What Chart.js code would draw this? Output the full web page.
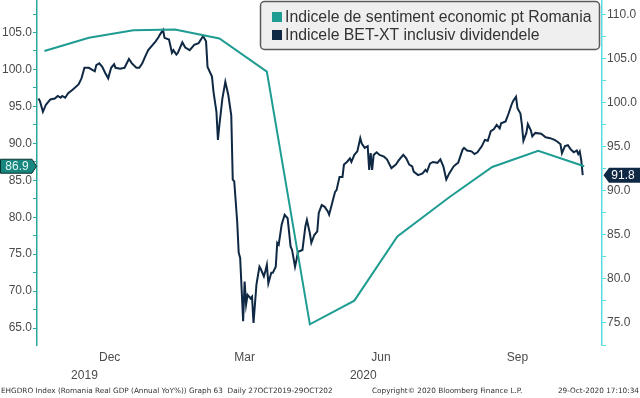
<!DOCTYPE html>
<html>
<head>
<meta charset="utf-8">
<script src="https://cdn.jsdelivr.net/npm/chart.js@4.4.0/dist/chart.umd.min.js"></script>
<style>
html,body{margin:0;padding:0;background:#fff;}
canvas{display:block;}
</style>
</head>
<body>
<canvas id="c" width="640" height="398"></canvas>
<script>
// ---- Data (x = days since 27 Oct 2019) ----
const seriesNames = ['Indicele de sentiment economic pt Romania', 'Indicele BET-XT inclusiv dividendele'];

const sentDay = [5, 35, 65, 93, 123, 155, 184, 214, 243, 278, 307, 338, 369];
const sentValue = [102.5, 104.3, 105.3, 105.4, 104.2, 99.7, 65.5, 68.7, 77.4, 82.7, 86.8, 89.0, 86.9];

const betDay = [1,2,4,6,9,12,14,16,17,19,21,24,28,30,32,35,37,39,40,42,44,46,48,50,52,53,56,59,62,64,67,69,71,73,75,77,80,82,83,85,86,89,91,92,94,95,98,100,
103,106,109,112,114,115,118,119,121,122,123,125,127,129,131,132,133,135,136,137,139,140,141,142,144,145,146,148,150,151,153,154,155,156,158,159,161,162,163,165,167,169,171,172,174,175,176,
179,181,182,184,185,187,189,190,192,194,196,197,199,201,202,204,206,207,209,211,212,214,216,218,219,221,223,224,225,226,227,229,231,234,236,239,242,244,247,249,251,253,254,257,260,262,263,265,267,270,272,
274,276,278,281,283,284,287,288,290,293,295,297,300,302,304,306,308,310,312,313,316,318,320,321,323,324,326,327,328,330,331,333,334,336,340,343,346,349,351,353,354,356,358,360,362,364,365,366,367,368];
const betValue = [100.5,100.2,99.0,99.8,100.4,100.5,100.8,100.6,100.8,100.6,101.1,101.5,102.1,102.8,104.0,104.0,103.8,103.6,104.3,104.5,104.1,103.4,102.8,104.0,104.4,104.0,103.9,104.0,105.0,104.5,104.0,104.0,104.5,105.3,106.0,106.4,107.0,107.5,107.8,108.3,107.4,107.2,105.7,106.0,105.5,105.7,106.9,106.3,
106.0,106.6,106.8,107.6,107.0,104.1,103.0,101.3,99.0,95.8,97.5,100.5,102.4,100.9,98.6,91.3,91.1,86.5,83.0,82.4,75.2,79.7,77.1,78.2,77.8,78.0,75.0,79.4,81.4,81.1,80.3,80.9,81.6,79.5,80.7,80.7,81.4,84.1,83.9,86.2,87.3,86.9,83.7,83.3,81.4,82.2,83.1,
83.3,86.0,86.7,85.2,84.1,85.0,85.4,87.5,88.4,88.2,87.7,87.3,88.6,89.9,90.1,91.6,91.6,93.0,93.3,93.7,93.3,94.1,94.5,96.0,95.4,94.9,95.1,92.4,94.3,92.4,94.1,94.4,94.1,93.9,93.6,92.6,93.0,93.5,94.1,93.7,93.0,92.8,92.2,91.8,92.0,92.4,92.2,93.1,93.3,93.2,93.6,
92.8,91.3,92.0,92.8,93.1,93.2,94.7,94.9,94.6,94.5,94.2,94.4,95.1,95.8,95.7,96.8,97.0,97.5,97.1,97.7,97.9,98.8,99.8,100.2,100.7,99.4,98.8,97.5,95.7,96.6,97.6,96.9,96.2,96.6,96.5,96.1,96.0,95.8,95.6,95.3,94.3,95.1,95.2,94.7,94.4,94.6,94.2,94.5,93.5,91.8];

// ---- Ticks ----
const xTickDays = [32, 49, 140, 220, 232, 324];
const xTickLabels = [['', '2019'], 'Dec', 'Mar', ['', '2020'], 'Jun', 'Sep'];
const leftTicks = [65, 67.5, 70, 72.5, 75, 77.5, 80, 82.5, 85, 87.5, 90, 92.5, 95, 97.5, 100, 102.5, 105, 107.5];
const rightTicks = [72.5, 75, 77.5, 80, 82.5, 85, 87.5, 90, 92.5, 95, 97.5, 100, 102.5, 105, 107.5, 110];

const footerLeft = 'EHGDRO Index (Romania Real GDP (Annual YoY%)) Graph 63  Daily 27OCT2019-29OCT202';
const footerMid = 'Copyright\u00A9 2020 Bloomberg Finance L.P.';
const footerRight = '29-Oct-2020 17:10:34';

// ---- Styles ----
const TEAL = '#1f9c92';
const NAVY = '#0f2843';
const LEFT_AXIS = '#2aa89c';
const RIGHT_AXIS = '#5cdbdd';
const TICK_TXT = '#4a4a4a';
const FONT = '"Liberation Sans", Arial, sans-serif';
const FOOT_FONT = '"DejaVu Sans", sans-serif';

function fixW(w){ return function(s){ s.width = w; s.paddingTop = 0; s.paddingBottom = 0; }; }

const overlay = {
  id: 'overlay',
  afterDraw(chart) {
    const ctx = chart.ctx;
    const yL = chart.scales.y, yR = chart.scales.y1;
    ctx.save();
    // legend box
    ctx.beginPath();
    if (ctx.roundRect) ctx.roundRect(260.5, 1.5, 339, 48, 4); else ctx.rect(260.5, 1.5, 339, 48);
    ctx.fillStyle = '#efefef';
    ctx.fill();
    ctx.lineWidth = 1.5;
    ctx.strokeStyle = '#5a5a5a';
    ctx.stroke();
    ctx.fillStyle = TEAL; ctx.fillRect(272, 12, 10, 10);
    ctx.fillStyle = NAVY; ctx.fillRect(272, 30, 10, 10);
    ctx.font = '15.8px ' + FONT;
    ctx.fillStyle = '#333';
    ctx.textBaseline = 'middle';
    ctx.textAlign = 'left';
    ctx.fillText(seriesNames[0], 285, 17.5);
    ctx.fillText(seriesNames[1], 285, 35.5);

    // left last-value label
    const lv = sentValue[sentValue.length - 1];
    const yl = yL.getPixelForValue(lv);
    ctx.beginPath();
    ctx.moveTo(0.5, yl - 7); ctx.lineTo(32, yl - 7); ctx.lineTo(36.5, yl); ctx.lineTo(32, yl + 7); ctx.lineTo(0.5, yl + 7); ctx.closePath();
    ctx.fillStyle = '#17867e'; ctx.fill();
    ctx.lineWidth = 1; ctx.strokeStyle = '#0b3330'; ctx.stroke();
    ctx.fillStyle = '#e6f7f5';
    ctx.font = '12px ' + FONT;
    ctx.textAlign = 'center';
    ctx.fillText(lv.toFixed(1), 17, yl + 0.5);

    // right last-value label
    const rv = betValue[betValue.length - 1];
    const yr = yR.getPixelForValue(rv);
    ctx.beginPath();
    ctx.moveTo(603.5, yr); ctx.lineTo(609, yr - 7.5); ctx.lineTo(640, yr - 7.5); ctx.lineTo(640, yr + 7.5); ctx.lineTo(609, yr + 7.5); ctx.closePath();
    ctx.fillStyle = NAVY; ctx.fill();
    ctx.fillStyle = '#ffffff';
    ctx.fillText(rv.toFixed(1), 623, yr + 0.5);

    // footer
    ctx.font = '7.3px ' + FOOT_FONT;
    ctx.fillStyle = '#333';
    ctx.textAlign = 'left';
    ctx.fillText(footerLeft, 1, 391);
    ctx.fillText(footerMid, 372, 391);
    ctx.textAlign = 'right';
    ctx.fillText(footerRight, 639, 391);
    ctx.restore();
  }
};

new Chart(document.getElementById('c'), {
  type: 'line',
  data: {
    datasets: [
      {
        label: seriesNames[0],
        data: sentDay.map((d, i) => ({ x: d, y: sentValue[i] })),
        yAxisID: 'y',
        borderColor: TEAL,
        borderWidth: 2,
        pointRadius: 0,
        tension: 0,
        order: 0
      },
      {
        label: seriesNames[1],
        data: betDay.map((d, i) => ({ x: d, y: betValue[i] })),
        yAxisID: 'y1',
        borderColor: NAVY,
        borderWidth: 2,
        pointRadius: 0,
        tension: 0,
        order: 1
      }
    ]
  },
  options: {
    responsive: false,
    devicePixelRatio: 1,
    animation: false,
    layout: { padding: 0 },
    plugins: { legend: { display: false }, tooltip: { enabled: false } },
    scales: {
      x: {
        type: 'linear',
        min: 0,
        max: 381,
        grid: { display: false, drawTicks: false },
        border: { display: false },
        afterBuildTicks: s => { s.ticks = xTickDays.map(v => ({ value: v })); },
        afterFit: s => { s.height = 53; s.paddingLeft = 0; s.paddingRight = 0; },
        ticks: {
          autoSkip: false,
          maxRotation: 0,
          padding: 4,
          color: TICK_TXT,
          font: { family: FONT, size: 12, lineHeight: 1.5 },
          callback: (v, i) => xTickLabels[i]
        }
      },
      y: {
        position: 'left',
        min: 62.7,
        max: 109.4,
        border: { color: LEFT_AXIS, width: 1.5 },
        grid: { drawOnChartArea: false, drawTicks: true, tickLength: 4, color: LEFT_AXIS },
        afterBuildTicks: s => { s.ticks = leftTicks.map(v => ({ value: v })); },
        afterFit: fixW(37),
        ticks: {
          padding: 1,
          color: TICK_TXT,
          font: { family: FONT, size: 12 },
          callback: v => (v % 5 === 0 ? v.toFixed(1) : '')
        }
      },
      y1: {
        position: 'right',
        min: 72.5,
        max: 111.7,
        border: { color: RIGHT_AXIS, width: 1.5 },
        grid: { drawOnChartArea: false, drawTicks: true, tickLength: 4, color: RIGHT_AXIS },
        afterBuildTicks: s => { s.ticks = rightTicks.map(v => ({ value: v })); },
        afterFit: fixW(38),
        ticks: {
          padding: 1,
          color: TICK_TXT,
          font: { family: FONT, size: 12 },
          callback: v => (v % 5 === 0 ? v.toFixed(1) : '')
        }
      }
    }
  },
  plugins: [overlay]
});
</script>
</body>
</html>
